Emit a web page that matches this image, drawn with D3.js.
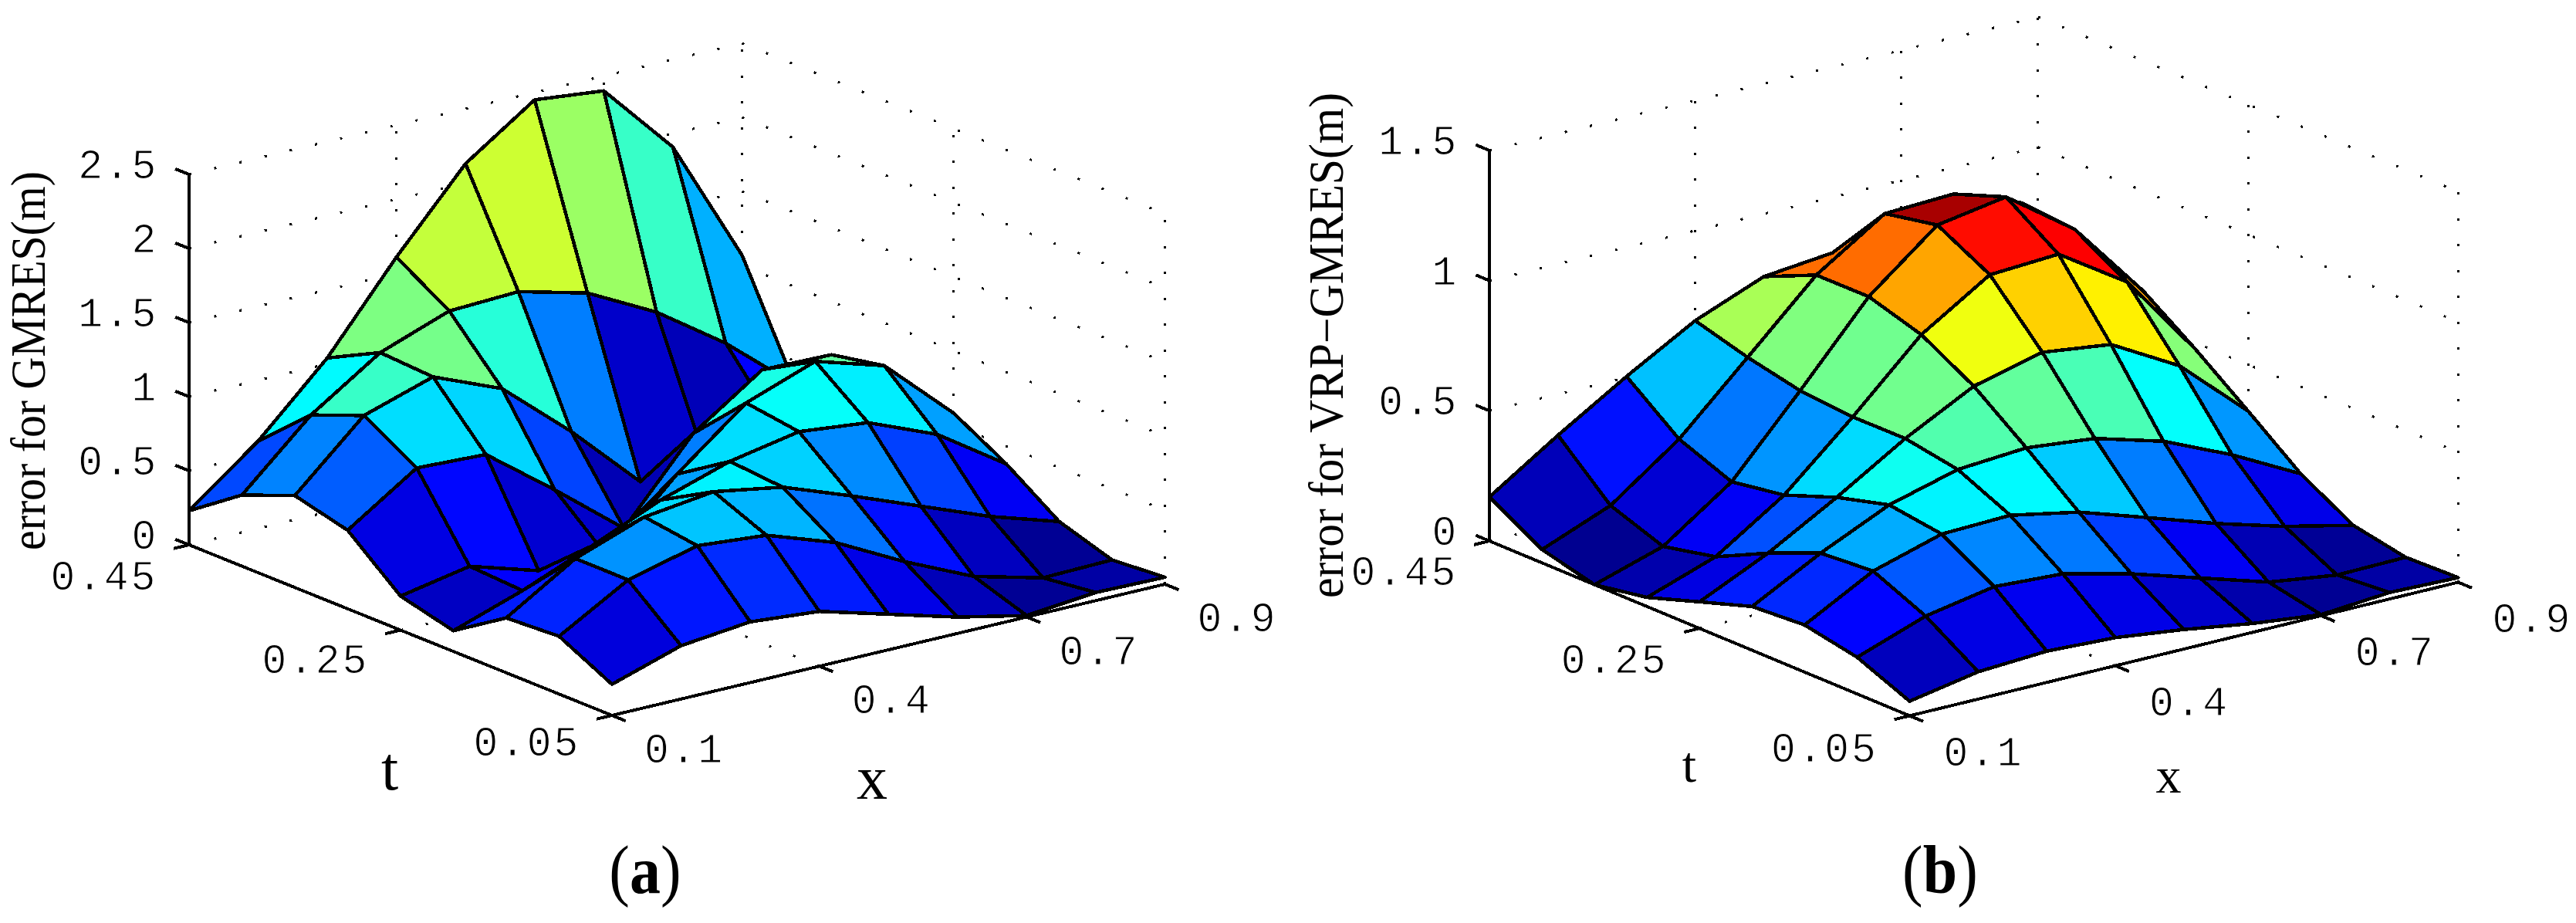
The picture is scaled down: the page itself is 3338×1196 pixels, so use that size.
<!DOCTYPE html>
<html>
<head>
<meta charset="utf-8">
<script src="https://cdn.jsdelivr.net/npm/d3@7"></script>
<style>
  body { margin: 0; background: #fff; }
  svg { display: block; }
  .tick { font-family: "Liberation Mono", monospace; font-size: 53px; letter-spacing: 2.8px; fill: #000; stroke: #fff; stroke-width: 0.9px; }
  .lab { font-family: "Liberation Serif", serif; fill: #000; }
  .cell, .axis, .grid { shape-rendering: crispEdges; }
</style>
</head>
<body>
<svg id="chart" width="3338" height="1196"></svg>
<script>
// grid of both surfaces
const xValues = [0.1, 0.2, 0.3, 0.4, 0.5, 0.6, 0.7, 0.8, 0.9]
const tValues = [0.05, 0.1, 0.15, 0.2, 0.25, 0.3, 0.35, 0.4, 0.45]

// rows go with tValues, columns with xValues
const errorGmres = [
  [0.21, 0.36, 0.41, 0.37, 0.24, 0.11, 0.01, 0.055, 0.047],
  [0.39, 0.66, 0.78, 0.74, 0.58, 0.34, 0.13, 0.01, 0.02],
  [0.37, 0.66, 0.83, 0.89, 0.81, 0.64, 0.46, 0.28, 0.135],
  [0.14, 0.30, 0.49, 0.69, 0.84, 0.93, 0.88, 0.69, 0.38],
  [0.23, 0.32, 0.18, 0.16, 0.61, 0.98, 1.15, 1.01, 0.58],
  [0.53, 0.84, 0.82, 0.47, 0.10, 0.63, 0.95, 0.94, 0.53],
  [0.62, 1.05, 1.20, 1.01, 0.61, 0.16, 0.11, 0.30, 0.31],
  [0.48, 0.91, 1.22, 1.39, 1.41, 1.29, 1.05, 0.73, 0.34],
  [0.23, 0.59, 1.04, 1.61, 2.13, 2.45, 2.40, 1.91, 1.07]
]
const errorVrp = [
  [0.056, 0.105, 0.12, 0.108, 0.075, 0.034, 0.004, 0.025, 0.018],
  [0.141, 0.235, 0.284, 0.269, 0.205, 0.125, 0.045, 0.008, 0.012],
  [0.181, 0.324, 0.402, 0.41, 0.358, 0.273, 0.186, 0.111, 0.051],
  [0.168, 0.309, 0.43, 0.502, 0.521, 0.493, 0.418, 0.302, 0.165],
  [0.102, 0.225, 0.375, 0.537, 0.674, 0.74, 0.706, 0.56, 0.322],
  [0.035, 0.127, 0.30, 0.536, 0.788, 0.954, 0.969, 0.798, 0.475],
  [0.0, 0.083, 0.267, 0.553, 0.85, 1.061, 1.105, 0.917, 0.616],
  [0.051, 0.156, 0.347, 0.597, 0.849, 1.021, 1.032, 0.934, 0.667],
  [0.169, 0.342, 0.504, 0.654, 0.759, 0.786, 0.846, 0.736, 0.492]
]

// ticks
const xTicks = [0.1, 0.4, 0.7, 0.9]
const tTicks = [0.45, 0.25, 0.05]
const zTicksA = [0, 0.5, 1, 1.5, 2, 2.5]
const zTicksB = [0, 0.5, 1, 1.5]

const svg = d3.select('#chart')

const jet = d3.scaleLinear()
  .domain([0, 0.125, 0.375, 0.625, 0.875, 1])
  .range(['#000090', '#0000ff', '#00ffff', '#ffff00', '#ff0000', '#800000'])
  .clamp(true)

function panel(o) {
  const g = svg.append('g')

  // orthographic view: each axis moves the point along a fixed screen direction
  const xToX = d3.scaleLinear([0.1, 0.9], [0, o.right[0] - o.front[0]])
  const xToY = d3.scaleLinear([0.1, 0.9], [0, o.right[1] - o.front[1]])
  const tToX = d3.scaleLinear([0.05, 0.45], [0, o.left[0] - o.front[0]])
  const tToY = d3.scaleLinear([0.05, 0.45], [0, o.left[1] - o.front[1]])
  const zToY = d3.scaleLinear([0, o.zMax], [0, o.zTop - o.left[1]])

  const project = (x, t, z) => [
    o.front[0] + xToX(x) + tToX(t),
    o.front[1] + xToY(x) + tToY(t) + zToY(z)
  ]
  const line = d3.line()
  const seg = (a, b) => line([project(...a), project(...b)])

  // dotted grid on the floor and the two back walls
  const tMin = 0.05, tMax = 0.45, xMin = 0.1, xMax = 0.9
  const grid = []
  o.zTicks.forEach(z => {
    grid.push([[xMin, tMax, z], [xMax, tMax, z]])
    grid.push([[xMax, tMax, z], [xMax, tMin, z]])
  })
  const innerX = xTicks.filter(d => d > xMin && d < xMax)
  const innerT = tTicks.filter(d => d > tMin && d < tMax)
  innerX.forEach(x => {
    grid.push([[x, tMax, 0], [x, tMax, o.zMax]])
    grid.push([[x, tMin, 0], [x, tMax, 0]])
  })
  innerT.forEach(t => {
    grid.push([[xMax, t, 0], [xMax, t, o.zMax]])
    grid.push([[xMin, t, 0], [xMax, t, 0]])
  })
  grid.push([[xMax, tMax, 0], [xMax, tMax, o.zMax]])
  grid.push([[xMax, tMin, 0], [xMax, tMin, o.zMax]])

  g.selectAll('.grid').data(grid).join('path')
    .attr('class', 'grid')
    .attr('d', d => seg(d[0], d[1]))
    .attr('fill', 'none')
    .attr('stroke', '#000')
    .attr('stroke-width', 3)
    .attr('stroke-dasharray', '3 30.5')

  // axes with ticks
  const axes = [
    [[xMin, tMax, 0], [xMin, tMax, o.zMax]],
    [[xMin, tMax, 0], [xMin, tMin, 0]],
    [[xMin, tMin, 0], [xMax, tMin, 0]]
  ]
  const dt = (tMax - tMin) * 0.26 / 8
  const dx = (xMax - xMin) * 0.028
  o.zTicks.forEach(z => axes.push([[xMin, tMax, z], [xMin, tMax + dt, z]]))
  xTicks.forEach(x => axes.push([[x, tMin, 0], [x, tMin - dt, 0]]))
  tTicks.forEach(t => axes.push([[xMin, t, 0], [xMin - dx, t, 0]]))

  g.selectAll('.axis').data(axes).join('path')
    .attr('class', 'axis')
    .attr('d', d => seg(d[0], d[1]))
    .attr('fill', 'none')
    .attr('stroke', '#000')
    .attr('stroke-width', 4)

  // surface cells, far ones first so near ones cover them
  const zTop = d3.max(o.values.flat())
  const cells = []
  for (let j = tValues.length - 2; j >= 0; j--) {
    for (let i = xValues.length - 2; i >= 0; i--) cells.push([i, j])
  }
  const corner = (i, j) => project(xValues[i], tValues[j], o.values[j][i])

  g.selectAll('.cell').data(cells).join('path')
    .attr('class', 'cell')
    .attr('d', ([i, j]) => line([corner(i, j), corner(i + 1, j), corner(i + 1, j + 1), corner(i, j + 1)]) + 'Z')
    .attr('fill', ([i, j]) => jet(o.values[j][i] / zTop))
    .attr('stroke', '#000')
    .attr('stroke-width', 4.5)
    .attr('stroke-linejoin', 'round')

  // tick labels
  const tDy = d3.scaleLinear([0.05, 0.45], o.tDy)

  g.selectAll('.zlab').data(o.zTicks).join('text')
    .attr('class', 'tick zlab')
    .attr('x', d => project(xMin, tMax, d)[0] - 40)
    .attr('y', d => project(xMin, tMax, d)[1] + 5)
    .attr('text-anchor', 'end')
    .text(d => d)

  g.selectAll('.tlab').data(tTicks).join('text')
    .attr('class', 'tick tlab')
    .attr('x', d => project(xMin, d, 0)[0] - 41)
    .attr('y', d => project(xMin, d, 0)[1] + tDy(d))
    .attr('text-anchor', 'end')
    .text(d => d)

  g.selectAll('.xlab').data(xTicks).join('text')
    .attr('class', 'tick xlab')
    .attr('x', d => project(d, tMin, 0)[0] + o.xOff[0])
    .attr('y', d => project(d, tMin, 0)[1] + o.xOff[1])
    .text(d => d)

  // axis titles
  g.append('text').attr('class', 'lab')
    .attr('transform', `translate(${o.ylab.x},${o.ylab.y}) rotate(-90)`)
    .attr('font-size', 63)
    .attr('textLength', o.ylab.len)
    .attr('lengthAdjust', 'spacingAndGlyphs')
    .text(o.ylab.text)

  g.append('text').attr('class', 'lab')
    .attr('x', o.tlab[0]).attr('y', o.tlab[1])
    .attr('font-size', o.titleSize).attr('text-anchor', 'middle').text('t')
  g.append('text').attr('class', 'lab')
    .attr('x', o.xlab[0]).attr('y', o.xlab[1])
    .attr('font-size', o.titleSize).attr('text-anchor', 'middle').text('x')

  const cap = g.append('text').attr('class', 'lab')
    .attr('transform', `translate(${o.cap[0]},${o.cap[1]}) scale(1,1.12)`)
    .attr('font-size', 80).attr('text-anchor', 'middle')
  cap.append('tspan').text('(')
  cap.append('tspan').attr('font-weight', 'bold').text(o.capText)
  cap.append('tspan').text(')')
}

panel({
  values: errorGmres,
  front: [793, 927], left: [245, 706], right: [1509.5, 757],
  zMax: 2.5, zTop: 226, zTicks: zTicksA,
  tDy: [52, 58], xOff: [42, 61],
  ylab: { x: 58, y: 713, len: 491, text: 'error for GMRES(m)' },
  tlab: [505, 1023], xlab: [1130, 1035], titleSize: 80,
  cap: [836, 1157], capText: 'a'
})

panel({
  values: errorVrp,
  front: [2474.5, 927.5], left: [1930, 701], right: [3185.4, 754.5],
  zMax: 1.5, zTop: 195, zTicks: zTicksB,
  tDy: [59, 56.5], xOff: [44, 64],
  ylab: { x: 1740, y: 775, len: 655, text: 'error for VRP\u2212GMRES(m)' },
  tlab: [2189, 1013], xlab: [2810, 1027], titleSize: 66,
  cap: [2514, 1157], capText: 'b'
})
</script>
</body>
</html>
